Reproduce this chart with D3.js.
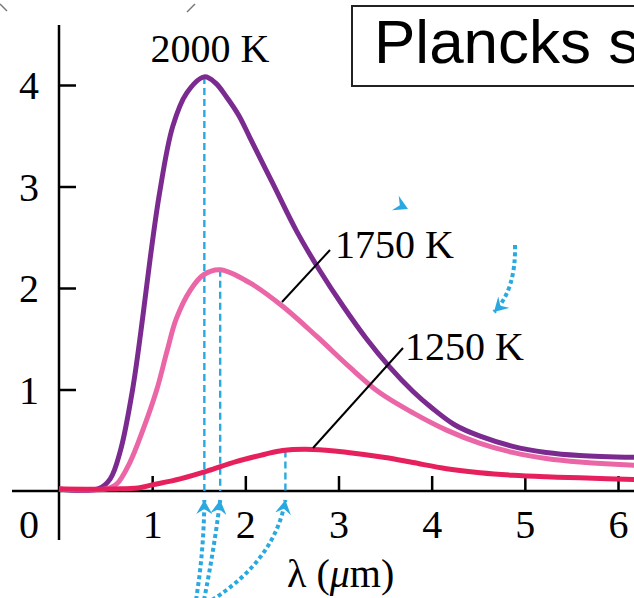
<!DOCTYPE html>
<html>
<head>
<meta charset="utf-8">
<script src="https://cdn.jsdelivr.net/npm/d3@7"></script>
<style>
  body { margin: 0; background: #fff; }
  svg { display: block; }
</style>
</head>
<body>
<div id="chart"></div>
<script>
// wavelength (um) and intensity
var lambda2000 = [0, 0.42, 0.55, 0.66, 0.79, 0.90, 0.98, 1.08, 1.22, 1.37, 1.56, 1.68, 1.80, 1.93, 2.05, 2.30, 2.55, 2.80, 3.05, 3.30, 3.55, 3.80, 4.00, 4.25, 4.52, 4.87, 5.23, 5.59, 6.25];
var value2000  = [0.02, 0.02, 0.12, 0.40, 1.00, 1.72, 2.30, 2.94, 3.59, 3.92, 4.08, 4.02, 3.88, 3.70, 3.48, 3.02, 2.56, 2.17, 1.82, 1.50, 1.22, 0.98, 0.82, 0.65, 0.54, 0.44, 0.38, 0.35, 0.33];

var lambda1750 = [0, 0.50, 0.62, 0.76, 0.90, 1.05, 1.16, 1.26, 1.41, 1.55, 1.73, 2.05, 2.40, 2.77, 3.12, 3.44, 3.80, 4.16, 4.52, 4.87, 5.23, 5.59, 6.25];
var value1750  = [0.02, 0.02, 0.07, 0.28, 0.60, 1.00, 1.38, 1.70, 1.98, 2.13, 2.18, 2.05, 1.82, 1.52, 1.22, 0.97, 0.77, 0.60, 0.47, 0.38, 0.32, 0.285, 0.25];

var lambda1250 = [0, 0.60, 0.85, 1.00, 1.30, 1.60, 1.90, 2.20, 2.40, 2.73, 3.10, 3.50, 3.80, 4.16, 4.52, 4.87, 5.23, 5.59, 6.25];
var value1250  = [0.02, 0.02, 0.03, 0.06, 0.12, 0.20, 0.29, 0.36, 0.40, 0.41, 0.38, 0.33, 0.28, 0.22, 0.18, 0.155, 0.14, 0.13, 0.11];

var seriesNames = ["2000 K", "1750 K", "1250 K"];
var peakLambda = [1.56, 1.73, 2.43];
var peakValue  = [4.08, 2.18, 0.40];

var xTicks = [1, 2, 3, 4, 5, 6];
var yTicks = [1, 2, 3, 4];

var width = 634, height = 598;
var colors = ["#7b2b90", "#ea66a6", "#e6205c"];
var blue = "#2aa9e0";
var serif = "'Liberation Serif', 'Times New Roman', serif";

var x = d3.scaleLinear().domain([0, 6]).range([59, 618]);
var y = d3.scaleLinear().domain([0, 4]).range([491, 85]);

var svg = d3.select("#chart").append("svg")
    .attr("width", width)
    .attr("height", height);

var defs = svg.append("defs");
defs.append("marker")
    .attr("id", "head")
    .attr("viewBox", "-14 -8 15 16")
    .attr("markerWidth", 15)
    .attr("markerHeight", 16)
    .attr("refX", 0)
    .attr("refY", 0)
    .attr("markerUnits", "userSpaceOnUse")
    .attr("orient", "auto")
    .append("path")
    .attr("d", "M0,0 L-14,-8 L-9,0 L-14,8 Z")
    .attr("fill", blue);

// cropped marks at the top edge
svg.append("path").attr("d", "M0,4 L7,11").attr("stroke", "#777").attr("stroke-width", 1.5);
svg.append("path").attr("d", "M195,4 L187,12").attr("stroke", "#777").attr("stroke-width", 1.5);

// title box
svg.append("rect")
    .attr("x", 352).attr("y", 6)
    .attr("width", 320).attr("height", 80)
    .attr("fill", "#fff")
    .attr("stroke", "#222")
    .attr("stroke-width", 2);
svg.append("text")
    .attr("x", 374).attr("y", 63)
    .attr("font-family", "'Liberation Sans', Arial, sans-serif")
    .attr("font-size", 62)
    .attr("fill", "#000")
    .text("Plancks s");

// axes lines
svg.append("line")
    .attr("x1", 12).attr("x2", width)
    .attr("y1", y(0)).attr("y2", y(0))
    .attr("stroke", "#000").attr("stroke-width", 2.5);
svg.append("line")
    .attr("x1", x(0)).attr("x2", x(0))
    .attr("y1", 25).attr("y2", 540)
    .attr("stroke", "#000").attr("stroke-width", 2.5);

var xAxis = svg.append("g")
    .attr("transform", "translate(0," + y(0) + ")")
    .call(d3.axisBottom(x).tickValues(xTicks).tickFormat(d3.format("d")).tickSize(-15).tickSizeOuter(0));
var yAxis = svg.append("g")
    .attr("transform", "translate(" + x(0) + ",0)")
    .call(d3.axisLeft(y).tickValues(yTicks).tickFormat(d3.format("d")).tickSize(-17).tickSizeOuter(0));

[xAxis, yAxis].forEach(function (g) {
    g.select(".domain").remove();
    g.selectAll(".tick line").attr("stroke", "#000").attr("stroke-width", 2.5);
    g.selectAll(".tick text")
        .attr("font-family", serif)
        .attr("font-size", 40)
        .attr("fill", "#000");
});
xAxis.selectAll(".tick text").attr("y", 47).attr("dy", 0);
yAxis.selectAll(".tick text")
    .attr("x", -30)
    .attr("dy", "0.34em")
    .attr("text-anchor", "middle");

// origin label
svg.append("text")
    .attr("x", 29).attr("y", 538)
    .attr("text-anchor", "middle")
    .attr("font-family", serif).attr("font-size", 40)
    .text("0");

// axis title
var xt = svg.append("text")
    .attr("x", 287).attr("y", 587)
    .attr("font-family", serif).attr("font-size", 40);
xt.append("tspan").text("\u03bb (");
xt.append("tspan").attr("font-style", "italic").text("\u03bc");
xt.append("tspan").text("m)");

// dashed lines at the peaks
svg.selectAll(".peak")
    .data(peakLambda)
    .enter().append("line")
    .attr("class", "peak")
    .attr("x1", function (d) { return x(d); })
    .attr("x2", function (d) { return x(d); })
    .attr("y1", function (d, i) { return y(peakValue[i]); })
    .attr("y2", y(0))
    .attr("stroke", blue)
    .attr("stroke-width", 2.4)
    .attr("stroke-dasharray", "7,4");

// curves
var line = d3.line()
    .x(function (d) { return x(d[0]); })
    .y(function (d) { return y(d[1]); })
    .curve(d3.curveCatmullRom.alpha(0.5));

var curves = [
    d3.zip(lambda2000, value2000),
    d3.zip(lambda1750, value1750),
    d3.zip(lambda1250, value1250)
];

svg.selectAll(".curve")
    .data(curves)
    .enter().append("path")
    .attr("class", "curve")
    .attr("d", line)
    .attr("fill", "none")
    .attr("stroke", function (d, i) { return colors[i]; })
    .attr("stroke-width", 5)
    .attr("stroke-linejoin", "round");

// labels with leader lines
svg.append("text")
    .attr("x", 210).attr("y", 62)
    .attr("text-anchor", "middle")
    .attr("font-family", serif).attr("font-size", 40)
    .text(seriesNames[0]);
svg.append("text")
    .attr("x", 335).attr("y", 258)
    .attr("font-family", serif).attr("font-size", 40)
    .text(seriesNames[1]);
svg.append("text")
    .attr("x", 405).attr("y", 360)
    .attr("font-family", serif).attr("font-size", 40)
    .text(seriesNames[2]);

svg.append("line")
    .attr("x1", 330).attr("y1", 250)
    .attr("x2", 282).attr("y2", 302)
    .attr("stroke", "#000").attr("stroke-width", 2);
svg.append("line")
    .attr("x1", 403).attr("y1", 348)
    .attr("x2", 313).attr("y2", 448)
    .attr("stroke", "#000").attr("stroke-width", 2);

// dotted arrows pointing at the peak wavelengths
var starts = [[196, 600], [204, 600], [212, 600]];
var ctrls = [[204, 550], [214, 550], [275, 560]];
svg.selectAll(".arrow")
    .data(peakLambda)
    .enter().append("path")
    .attr("class", "arrow")
    .attr("d", function (d, i) {
        return "M" + starts[i][0] + "," + starts[i][1] +
            " Q" + ctrls[i][0] + "," + ctrls[i][1] + " " + x(d) + "," + 500;
    })
    .attr("fill", "none")
    .attr("stroke", blue)
    .attr("stroke-width", 4)
    .attr("stroke-dasharray", "4,3")
    .attr("marker-end", "url(#head)");

svg.append("path")
    .attr("d", "M515,245 Q516,290 494,312")
    .attr("fill", "none")
    .attr("stroke", blue)
    .attr("stroke-width", 4)
    .attr("stroke-dasharray", "4,3")
    .attr("marker-end", "url(#head)");

svg.append("path")
    .attr("d", "M0,0 L-14,-8 L-9,0 L-14,8 Z")
    .attr("transform", "translate(408,209) rotate(25)")
    .attr("fill", blue);
</script>
</body>
</html>
